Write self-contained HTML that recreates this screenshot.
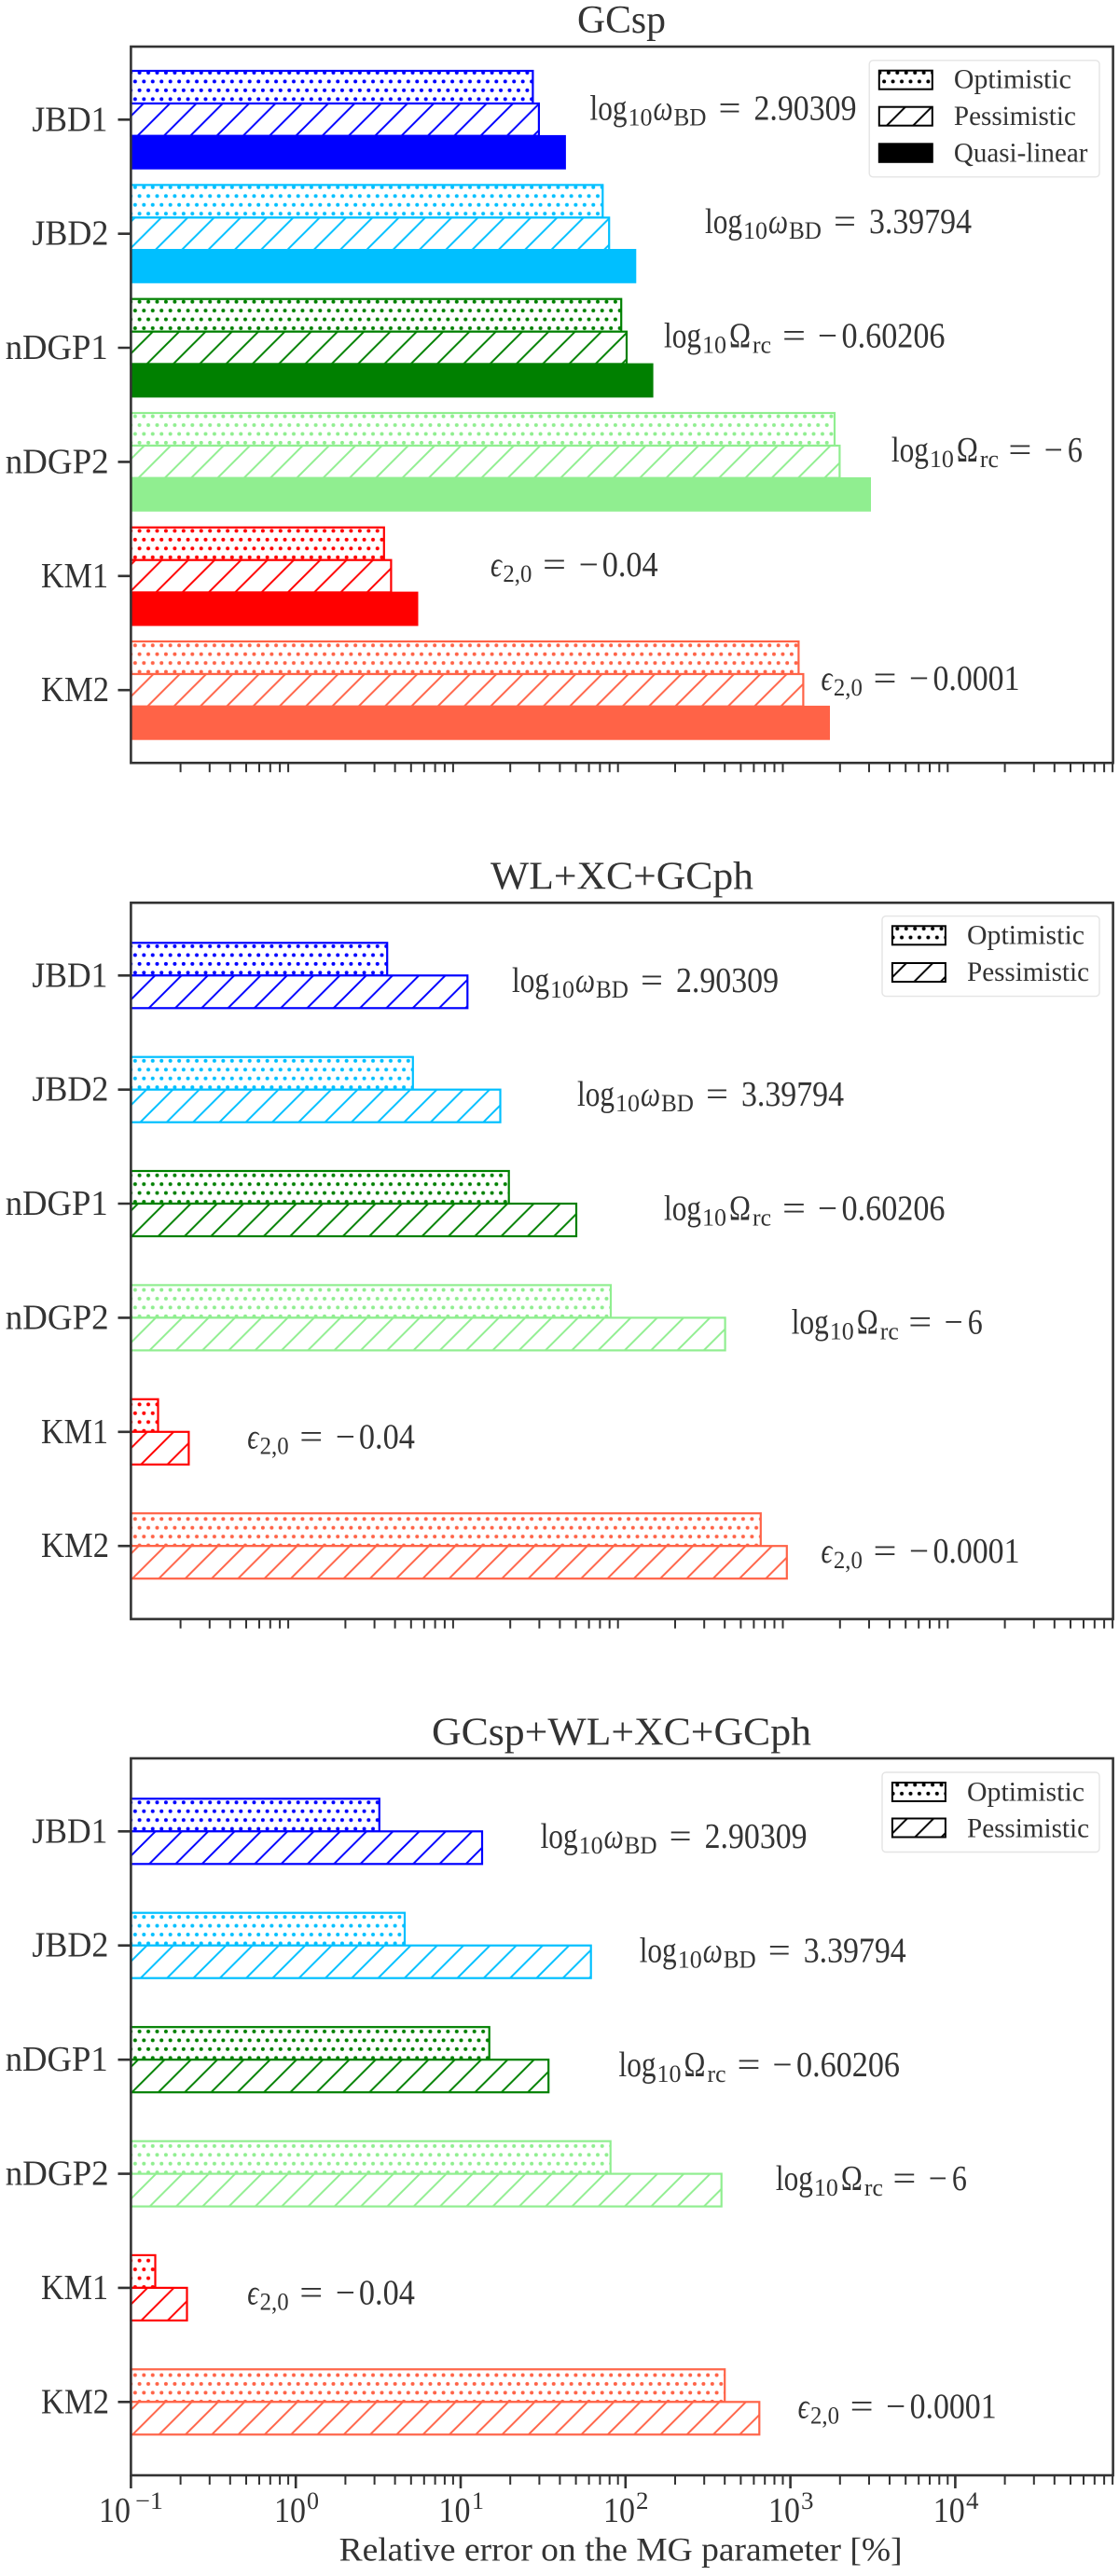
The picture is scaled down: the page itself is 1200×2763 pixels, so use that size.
<!DOCTYPE html>
<html><head><meta charset="utf-8"><style>
html,body{margin:0;padding:0;background:#fff}
svg{display:block;filter:blur(.35px)}
text{font-family:"Liberation Serif","DejaVu Serif",serif;font-size:38px;fill:#333;white-space:pre}
.s{font-size:26px}
.i{font-style:italic}
.t{font-size:42px}
.l{font-size:30px}
.e{font-size:26px}
.bar{stroke-width:2.2}
pattern path{stroke-width:2}
rect[stroke="#333"],path[stroke="#333"]{stroke-width:2.6}
#min{stroke-width:2}
</style></head><body>
<svg xmlns="http://www.w3.org/2000/svg" width="1200" height="2763" viewBox="0 0 1200 2763">
<defs>
<pattern id="l1b" patternUnits="userSpaceOnUse" x="10.2" y="0" width="28.3" height="28.3"><path d="M-2 30.3L30.3-2M-2 2L2-2M26.3 30.3L30.3 26.3" stroke="#00f" stroke-width="1.8"/></pattern>
<pattern id="l1c" patternUnits="userSpaceOnUse" x="10.2" y="0" width="28.3" height="28.3"><path d="M-2 30.3L30.3-2M-2 2L2-2M26.3 30.3L30.3 26.3" stroke="#00bfff" stroke-width="1.8"/></pattern>
<pattern id="l1g" patternUnits="userSpaceOnUse" x="10.2" y="0" width="28.3" height="28.3"><path d="M-2 30.3L30.3-2M-2 2L2-2M26.3 30.3L30.3 26.3" stroke="#008000" stroke-width="1.8"/></pattern>
<pattern id="l1h" patternUnits="userSpaceOnUse" x="10.2" y="0" width="28.3" height="28.3"><path d="M-2 30.3L30.3-2M-2 2L2-2M26.3 30.3L30.3 26.3" stroke="#90ee90" stroke-width="1.8"/></pattern>
<pattern id="l1r" patternUnits="userSpaceOnUse" x="10.2" y="0" width="28.3" height="28.3"><path d="M-2 30.3L30.3-2M-2 2L2-2M26.3 30.3L30.3 26.3" stroke="#f00" stroke-width="1.8"/></pattern>
<pattern id="l1t" patternUnits="userSpaceOnUse" x="10.2" y="0" width="28.3" height="28.3"><path d="M-2 30.3L30.3-2M-2 2L2-2M26.3 30.3L30.3 26.3" stroke="#ff6347" stroke-width="1.8"/></pattern>
<pattern id="l1k" patternUnits="userSpaceOnUse" x="10.2" y="0" width="28.3" height="28.3"><path d="M-2 30.3L30.3-2M-2 2L2-2M26.3 30.3L30.3 26.3" stroke="#000" stroke-width="1.8"/></pattern>

<pattern id="l2b" patternUnits="userSpaceOnUse" x="24" y="0" width="28.3" height="28.3"><path d="M-2 30.3L30.3-2M-2 2L2-2M26.3 30.3L30.3 26.3" stroke="#00f" stroke-width="1.8"/></pattern>
<pattern id="l2c" patternUnits="userSpaceOnUse" x="24" y="0" width="28.3" height="28.3"><path d="M-2 30.3L30.3-2M-2 2L2-2M26.3 30.3L30.3 26.3" stroke="#00bfff" stroke-width="1.8"/></pattern>
<pattern id="l2g" patternUnits="userSpaceOnUse" x="24" y="0" width="28.3" height="28.3"><path d="M-2 30.3L30.3-2M-2 2L2-2M26.3 30.3L30.3 26.3" stroke="#008000" stroke-width="1.8"/></pattern>
<pattern id="l2h" patternUnits="userSpaceOnUse" x="24" y="0" width="28.3" height="28.3"><path d="M-2 30.3L30.3-2M-2 2L2-2M26.3 30.3L30.3 26.3" stroke="#90ee90" stroke-width="1.8"/></pattern>
<pattern id="l2r" patternUnits="userSpaceOnUse" x="24" y="0" width="28.3" height="28.3"><path d="M-2 30.3L30.3-2M-2 2L2-2M26.3 30.3L30.3 26.3" stroke="#f00" stroke-width="1.8"/></pattern>
<pattern id="l2t" patternUnits="userSpaceOnUse" x="24" y="0" width="28.3" height="28.3"><path d="M-2 30.3L30.3-2M-2 2L2-2M26.3 30.3L30.3 26.3" stroke="#ff6347" stroke-width="1.8"/></pattern>
<pattern id="l2k" patternUnits="userSpaceOnUse" x="24" y="0" width="28.3" height="28.3"><path d="M-2 30.3L30.3-2M-2 2L2-2M26.3 30.3L30.3 26.3" stroke="#000" stroke-width="1.8"/></pattern>

<pattern id="l3b" patternUnits="userSpaceOnUse" x="8.5" y="0" width="28.3" height="28.3"><path d="M-2 30.3L30.3-2M-2 2L2-2M26.3 30.3L30.3 26.3" stroke="#00f" stroke-width="1.8"/></pattern>
<pattern id="l3c" patternUnits="userSpaceOnUse" x="8.5" y="0" width="28.3" height="28.3"><path d="M-2 30.3L30.3-2M-2 2L2-2M26.3 30.3L30.3 26.3" stroke="#00bfff" stroke-width="1.8"/></pattern>
<pattern id="l3g" patternUnits="userSpaceOnUse" x="8.5" y="0" width="28.3" height="28.3"><path d="M-2 30.3L30.3-2M-2 2L2-2M26.3 30.3L30.3 26.3" stroke="#008000" stroke-width="1.8"/></pattern>
<pattern id="l3h" patternUnits="userSpaceOnUse" x="8.5" y="0" width="28.3" height="28.3"><path d="M-2 30.3L30.3-2M-2 2L2-2M26.3 30.3L30.3 26.3" stroke="#90ee90" stroke-width="1.8"/></pattern>
<pattern id="l3r" patternUnits="userSpaceOnUse" x="8.5" y="0" width="28.3" height="28.3"><path d="M-2 30.3L30.3-2M-2 2L2-2M26.3 30.3L30.3 26.3" stroke="#f00" stroke-width="1.8"/></pattern>
<pattern id="l3t" patternUnits="userSpaceOnUse" x="8.5" y="0" width="28.3" height="28.3"><path d="M-2 30.3L30.3-2M-2 2L2-2M26.3 30.3L30.3 26.3" stroke="#ff6347" stroke-width="1.8"/></pattern>
<pattern id="l3k" patternUnits="userSpaceOnUse" x="8.5" y="0" width="28.3" height="28.3"><path d="M-2 30.3L30.3-2M-2 2L2-2M26.3 30.3L30.3 26.3" stroke="#000" stroke-width="1.8"/></pattern>

<pattern id="d1b" patternUnits="userSpaceOnUse" x="147.2" y="75.6" width="9.45" height="18.9"><g fill="#00f"><circle cx="2.4" cy="2.4" r="2"/><circle cx="7.125" cy="11.85" r="2"/></g></pattern>
<pattern id="d1c" patternUnits="userSpaceOnUse" x="147.2" y="75.6" width="9.45" height="18.9"><g fill="#00bfff"><circle cx="2.4" cy="2.4" r="2"/><circle cx="7.125" cy="11.85" r="2"/></g></pattern>
<pattern id="d1g" patternUnits="userSpaceOnUse" x="147.2" y="75.6" width="9.45" height="18.9"><g fill="#008000"><circle cx="2.4" cy="2.4" r="2"/><circle cx="7.125" cy="11.85" r="2"/></g></pattern>
<pattern id="d1h" patternUnits="userSpaceOnUse" x="147.2" y="75.6" width="9.45" height="18.9"><g fill="#90ee90"><circle cx="2.4" cy="2.4" r="2"/><circle cx="7.125" cy="11.85" r="2"/></g></pattern>
<pattern id="d1r" patternUnits="userSpaceOnUse" x="147.2" y="75.6" width="9.45" height="18.9"><g fill="#f00"><circle cx="2.4" cy="2.4" r="2"/><circle cx="7.125" cy="11.85" r="2"/></g></pattern>
<pattern id="d1t" patternUnits="userSpaceOnUse" x="147.2" y="75.6" width="9.45" height="18.9"><g fill="#ff6347"><circle cx="2.4" cy="2.4" r="2"/><circle cx="7.125" cy="11.85" r="2"/></g></pattern>
<pattern id="d1k" patternUnits="userSpaceOnUse" x="147.2" y="75.6" width="9.45" height="18.9"><g fill="#000"><circle cx="2.4" cy="2.4" r="2"/><circle cx="7.125" cy="11.85" r="2"/></g></pattern>

<pattern id="d2b" patternUnits="userSpaceOnUse" x="147.2" y="1012.6" width="9.45" height="18.9"><g fill="#00f"><circle cx="2.4" cy="2.4" r="2"/><circle cx="7.125" cy="11.85" r="2"/></g></pattern>
<pattern id="d2c" patternUnits="userSpaceOnUse" x="147.2" y="1012.6" width="9.45" height="18.9"><g fill="#00bfff"><circle cx="2.4" cy="2.4" r="2"/><circle cx="7.125" cy="11.85" r="2"/></g></pattern>
<pattern id="d2g" patternUnits="userSpaceOnUse" x="147.2" y="1012.6" width="9.45" height="18.9"><g fill="#008000"><circle cx="2.4" cy="2.4" r="2"/><circle cx="7.125" cy="11.85" r="2"/></g></pattern>
<pattern id="d2h" patternUnits="userSpaceOnUse" x="147.2" y="1012.6" width="9.45" height="18.9"><g fill="#90ee90"><circle cx="2.4" cy="2.4" r="2"/><circle cx="7.125" cy="11.85" r="2"/></g></pattern>
<pattern id="d2r" patternUnits="userSpaceOnUse" x="147.2" y="1012.6" width="9.45" height="18.9"><g fill="#f00"><circle cx="2.4" cy="2.4" r="2"/><circle cx="7.125" cy="11.85" r="2"/></g></pattern>
<pattern id="d2t" patternUnits="userSpaceOnUse" x="147.2" y="1012.6" width="9.45" height="18.9"><g fill="#ff6347"><circle cx="2.4" cy="2.4" r="2"/><circle cx="7.125" cy="11.85" r="2"/></g></pattern>
<pattern id="d2k" patternUnits="userSpaceOnUse" x="147.2" y="1012.6" width="9.45" height="18.9"><g fill="#000"><circle cx="2.4" cy="2.4" r="2"/><circle cx="7.125" cy="11.85" r="2"/></g></pattern>

<pattern id="d3b" patternUnits="userSpaceOnUse" x="147.2" y="1930.9" width="9.45" height="18.9"><g fill="#00f"><circle cx="2.4" cy="2.4" r="2"/><circle cx="7.125" cy="11.85" r="2"/></g></pattern>
<pattern id="d3c" patternUnits="userSpaceOnUse" x="147.2" y="1930.9" width="9.45" height="18.9"><g fill="#00bfff"><circle cx="2.4" cy="2.4" r="2"/><circle cx="7.125" cy="11.85" r="2"/></g></pattern>
<pattern id="d3g" patternUnits="userSpaceOnUse" x="147.2" y="1930.9" width="9.45" height="18.9"><g fill="#008000"><circle cx="2.4" cy="2.4" r="2"/><circle cx="7.125" cy="11.85" r="2"/></g></pattern>
<pattern id="d3h" patternUnits="userSpaceOnUse" x="147.2" y="1930.9" width="9.45" height="18.9"><g fill="#90ee90"><circle cx="2.4" cy="2.4" r="2"/><circle cx="7.125" cy="11.85" r="2"/></g></pattern>
<pattern id="d3r" patternUnits="userSpaceOnUse" x="147.2" y="1930.9" width="9.45" height="18.9"><g fill="#f00"><circle cx="2.4" cy="2.4" r="2"/><circle cx="7.125" cy="11.85" r="2"/></g></pattern>
<pattern id="d3t" patternUnits="userSpaceOnUse" x="147.2" y="1930.9" width="9.45" height="18.9"><g fill="#ff6347"><circle cx="2.4" cy="2.4" r="2"/><circle cx="7.125" cy="11.85" r="2"/></g></pattern>
<pattern id="d3k" patternUnits="userSpaceOnUse" x="147.2" y="1930.9" width="9.45" height="18.9"><g fill="#000"><circle cx="2.4" cy="2.4" r="2"/><circle cx="7.125" cy="11.85" r="2"/></g></pattern>

<path id="min" fill="none" stroke="#333" stroke-width="1.8" d="M53.2 0v10M84.4 0v10M106.4 0v10M123.6 0v10M137.6 0v10M149.4 0v10M159.7 0v10M168.7 0v10"/>
<g id="mins"><use href="#min" x="0"/><use href="#min" x="176.8"/><use href="#min" x="353.6"/><use href="#min" x="530.4"/><use href="#min" x="707.2"/><use href="#min" x="884"/></g>
</defs>
<rect width="1200" height="2763" fill="#fff"/>

<!-- PANEL 1 -->
<g class="bar">
<rect x="140.4" y="76" width="431" height="35" fill="#fff"/><rect x="140.4" y="76" width="431" height="35" fill="url(#d1b)" stroke="#00f"/>
<rect x="140.4" y="111" width="437.5" height="34.7" fill="#fff"/><rect x="140.4" y="111" width="437.5" height="34.7" fill="url(#l1b)" stroke="#00f"/>
<rect x="140.4" y="144.9" width="466.5" height="36.8" fill="#00f"/>
<rect x="140.4" y="198.4" width="505.9" height="35" fill="#fff"/><rect x="140.4" y="198.4" width="505.9" height="35" fill="url(#d1c)" stroke="#00bfff"/>
<rect x="140.4" y="233.4" width="512.8" height="34.7" fill="#fff"/><rect x="140.4" y="233.4" width="512.8" height="34.7" fill="url(#l1c)" stroke="#00bfff"/>
<rect x="140.4" y="267" width="541.9" height="36.8" fill="#00bfff"/>
<rect x="140.4" y="320.7" width="525.8" height="35" fill="#fff"/><rect x="140.4" y="320.7" width="525.8" height="35" fill="url(#d1g)" stroke="#008000"/>
<rect x="140.4" y="355.7" width="531.6" height="34.7" fill="#fff"/><rect x="140.4" y="355.7" width="531.6" height="34.7" fill="url(#l1g)" stroke="#008000"/>
<rect x="140.4" y="389.6" width="560.2" height="36.8" fill="#008000"/>
<rect x="140.4" y="443" width="754.6" height="35" fill="#fff"/><rect x="140.4" y="443" width="754.6" height="35" fill="url(#d1h)" stroke="#90ee90"/>
<rect x="140.4" y="478" width="760" height="34.7" fill="#fff"/><rect x="140.4" y="478" width="760" height="34.7" fill="url(#l1h)" stroke="#90ee90"/>
<rect x="140.4" y="511.9" width="793.6" height="36.8" fill="#90ee90"/>
<rect x="140.4" y="565.7" width="271.4" height="35" fill="#fff"/><rect x="140.4" y="565.7" width="271.4" height="35" fill="url(#d1r)" stroke="#f00"/>
<rect x="140.4" y="600.7" width="279" height="34.7" fill="#fff"/><rect x="140.4" y="600.7" width="279" height="34.7" fill="url(#l1r)" stroke="#f00"/>
<rect x="140.4" y="634.6" width="308.1" height="36.8" fill="#f00"/>
<rect x="140.4" y="688" width="716" height="35" fill="#fff"/><rect x="140.4" y="688" width="716" height="35" fill="url(#d1t)" stroke="#ff6347"/>
<rect x="140.4" y="723" width="721" height="34.7" fill="#fff"/><rect x="140.4" y="723" width="721" height="34.7" fill="url(#l1t)" stroke="#ff6347"/>
<rect x="140.4" y="756.9" width="749.6" height="36.8" fill="#ff6347"/>
</g>
<rect x="140.4" y="50" width="1053.2" height="768.3" fill="none" stroke="#333" stroke-width="2.2"/>
<path stroke="#333" stroke-width="2.2" d="M126.5 128.3H140M126.5 250.7H140M126.5 373H140M126.5 495.4H140M126.5 617.8H140M126.5 740.2H140"/>
<use href="#mins" x="140.4" y="818.3"/>
<text class="t" x="619" y="35" textLength="95" lengthAdjust="spacingAndGlyphs">GCsp</text>
<text x="34.4" y="140.3" textLength="81" lengthAdjust="spacingAndGlyphs">JBD1</text>
<text x="34.4" y="262.7" textLength="82" lengthAdjust="spacingAndGlyphs">JBD2</text>
<text x="5.7" y="385" textLength="110" lengthAdjust="spacingAndGlyphs">nDGP1</text>
<text x="5.7" y="507.4" textLength="111" lengthAdjust="spacingAndGlyphs">nDGP2</text>
<text x="44" y="629.8" textLength="72" lengthAdjust="spacingAndGlyphs">KM1</text>
<text x="44" y="752.2" textLength="73" lengthAdjust="spacingAndGlyphs">KM2</text>

<g transform="translate(632.5,128.3)"><text textLength="40" lengthAdjust="spacingAndGlyphs">log</text><text class="s" x="41" y="6" textLength="26" lengthAdjust="spacingAndGlyphs">10</text><text class="i" x="68" textLength="21" lengthAdjust="spacingAndGlyphs">ω</text><text class="s" x="90" y="6" textLength="35" lengthAdjust="spacingAndGlyphs">BD</text><text x="138" textLength="24" lengthAdjust="spacingAndGlyphs">=</text><text x="176" textLength="110" lengthAdjust="spacingAndGlyphs">2.90309</text></g>
<g transform="translate(756,250)"><text textLength="40" lengthAdjust="spacingAndGlyphs">log</text><text class="s" x="41" y="6" textLength="26" lengthAdjust="spacingAndGlyphs">10</text><text class="i" x="68" textLength="21" lengthAdjust="spacingAndGlyphs">ω</text><text class="s" x="90" y="6" textLength="35" lengthAdjust="spacingAndGlyphs">BD</text><text x="138" textLength="24" lengthAdjust="spacingAndGlyphs">=</text><text x="176" textLength="110" lengthAdjust="spacingAndGlyphs">3.39794</text></g>
<g transform="translate(712,372.3)"><text textLength="40" lengthAdjust="spacingAndGlyphs">log</text><text class="s" x="41" y="6" textLength="26" lengthAdjust="spacingAndGlyphs">10</text><text x="70" textLength="23" lengthAdjust="spacingAndGlyphs">Ω</text><text class="s" x="95" y="6" textLength="20" lengthAdjust="spacingAndGlyphs">rc</text><text x="127" textLength="25" lengthAdjust="spacingAndGlyphs">=</text><text x="165" textLength="21" lengthAdjust="spacingAndGlyphs">−</text><text x="190.5" textLength="111" lengthAdjust="spacingAndGlyphs">0.60206</text></g>
<g transform="translate(955.9,495)"><text textLength="40" lengthAdjust="spacingAndGlyphs">log</text><text class="s" x="41" y="6" textLength="26" lengthAdjust="spacingAndGlyphs">10</text><text x="70" textLength="23" lengthAdjust="spacingAndGlyphs">Ω</text><text class="s" x="95" y="6" textLength="20" lengthAdjust="spacingAndGlyphs">rc</text><text x="125.5" textLength="25" lengthAdjust="spacingAndGlyphs">=</text><text x="163.8" textLength="20" lengthAdjust="spacingAndGlyphs">−</text><text x="189" textLength="16" lengthAdjust="spacingAndGlyphs">6</text></g>
<g transform="translate(526,618)"><text class="i" textLength="12" lengthAdjust="spacingAndGlyphs">ϵ</text><text class="s" x="13.4" y="6" textLength="31" lengthAdjust="spacingAndGlyphs">2,0</text><text x="56" textLength="25" lengthAdjust="spacingAndGlyphs">=</text><text x="94.7" textLength="21" lengthAdjust="spacingAndGlyphs">−</text><text x="119.7" textLength="60" lengthAdjust="spacingAndGlyphs">0.04</text></g>
<g transform="translate(880.5,740)"><text class="i" textLength="12" lengthAdjust="spacingAndGlyphs">ϵ</text><text class="s" x="13.4" y="6" textLength="31" lengthAdjust="spacingAndGlyphs">2,0</text><text x="56" textLength="25" lengthAdjust="spacingAndGlyphs">=</text><text x="94.5" textLength="21" lengthAdjust="spacingAndGlyphs">−</text><text x="120" textLength="93" lengthAdjust="spacingAndGlyphs">0.0001</text></g>

<rect x="932.2" y="64.8" width="246.8" height="125" rx="4" fill="#fff" stroke="#e4e4e4" stroke-width="1.4"/>
<rect x="942.8" y="75.7" width="57" height="20" fill="#fff"/><rect x="942.8" y="75.7" width="57" height="20" fill="url(#d1k)" stroke="#000" stroke-width="2"/>
<rect x="942.8" y="114.7" width="57" height="20" fill="#fff"/><rect x="942.8" y="114.7" width="57" height="20" fill="url(#l1k)" stroke="#000" stroke-width="2"/>
<rect x="941.8" y="153.3" width="59" height="21.5" fill="#000"/>
<text class="l" x="1022.9" y="94.7" textLength="126" lengthAdjust="spacingAndGlyphs">Optimistic</text>
<text class="l" x="1022.9" y="134" textLength="131" lengthAdjust="spacingAndGlyphs">Pessimistic</text>
<text class="l" x="1022.9" y="173.3" textLength="143.5" lengthAdjust="spacingAndGlyphs">Quasi-linear</text>

<!-- PANEL 2 -->
<g class="bar">
<rect x="140.4" y="1011.3" width="274.8" height="35" fill="#fff"/><rect x="140.4" y="1011.3" width="274.8" height="35" fill="url(#d2b)" stroke="#00f"/>
<rect x="140.4" y="1046.3" width="360.9" height="35" fill="#fff"/><rect x="140.4" y="1046.3" width="360.9" height="35" fill="url(#l2b)" stroke="#00f"/>
<rect x="140.4" y="1133.7" width="302.4" height="35" fill="#fff"/><rect x="140.4" y="1133.7" width="302.4" height="35" fill="url(#d2c)" stroke="#00bfff"/>
<rect x="140.4" y="1168.7" width="396.1" height="35" fill="#fff"/><rect x="140.4" y="1168.7" width="396.1" height="35" fill="url(#l2c)" stroke="#00bfff"/>
<rect x="140.4" y="1256" width="405.3" height="35" fill="#fff"/><rect x="140.4" y="1256" width="405.3" height="35" fill="url(#d2g)" stroke="#008000"/>
<rect x="140.4" y="1291" width="477.6" height="35" fill="#fff"/><rect x="140.4" y="1291" width="477.6" height="35" fill="url(#l2g)" stroke="#008000"/>
<rect x="140.4" y="1378.4" width="514.6" height="35" fill="#fff"/><rect x="140.4" y="1378.4" width="514.6" height="35" fill="url(#d2h)" stroke="#90ee90"/>
<rect x="140.4" y="1413.4" width="637.2" height="35" fill="#fff"/><rect x="140.4" y="1413.4" width="637.2" height="35" fill="url(#l2h)" stroke="#90ee90"/>
<rect x="140.4" y="1500.8" width="29.1" height="35" fill="#fff"/><rect x="140.4" y="1500.8" width="29.1" height="35" fill="url(#d2r)" stroke="#f00"/>
<rect x="140.4" y="1535.8" width="62" height="35" fill="#fff"/><rect x="140.4" y="1535.8" width="62" height="35" fill="url(#l2r)" stroke="#f00"/>
<rect x="140.4" y="1623.2" width="675.4" height="35" fill="#fff"/><rect x="140.4" y="1623.2" width="675.4" height="35" fill="url(#d2t)" stroke="#ff6347"/>
<rect x="140.4" y="1658.2" width="703.4" height="35" fill="#fff"/><rect x="140.4" y="1658.2" width="703.4" height="35" fill="url(#l2t)" stroke="#ff6347"/>
</g>
<rect x="140.4" y="968.3" width="1053.2" height="768.3" fill="none" stroke="#333" stroke-width="2.2"/>
<path stroke="#333" stroke-width="2.2" d="M126.5 1046.3H140M126.5 1168.7H140M126.5 1291H140M126.5 1413.4H140M126.5 1535.8H140M126.5 1658.2H140"/>
<use href="#mins" x="140.4" y="1736.6"/>
<text class="t" x="526" y="953.3" textLength="282" lengthAdjust="spacingAndGlyphs">WL+XC+GCph</text>
<text x="34.4" y="1058.3" textLength="81" lengthAdjust="spacingAndGlyphs">JBD1</text>
<text x="34.4" y="1180.7" textLength="82" lengthAdjust="spacingAndGlyphs">JBD2</text>
<text x="5.7" y="1303" textLength="110" lengthAdjust="spacingAndGlyphs">nDGP1</text>
<text x="5.7" y="1425.4" textLength="111" lengthAdjust="spacingAndGlyphs">nDGP2</text>
<text x="44" y="1547.8" textLength="72" lengthAdjust="spacingAndGlyphs">KM1</text>
<text x="44" y="1670.2" textLength="73" lengthAdjust="spacingAndGlyphs">KM2</text>

<g transform="translate(549,1064)"><text textLength="40" lengthAdjust="spacingAndGlyphs">log</text><text class="s" x="41" y="6" textLength="26" lengthAdjust="spacingAndGlyphs">10</text><text class="i" x="68" textLength="21" lengthAdjust="spacingAndGlyphs">ω</text><text class="s" x="90" y="6" textLength="35" lengthAdjust="spacingAndGlyphs">BD</text><text x="138" textLength="24" lengthAdjust="spacingAndGlyphs">=</text><text x="176" textLength="110" lengthAdjust="spacingAndGlyphs">2.90309</text></g>
<g transform="translate(619,1186)"><text textLength="40" lengthAdjust="spacingAndGlyphs">log</text><text class="s" x="41" y="6" textLength="26" lengthAdjust="spacingAndGlyphs">10</text><text class="i" x="68" textLength="21" lengthAdjust="spacingAndGlyphs">ω</text><text class="s" x="90" y="6" textLength="35" lengthAdjust="spacingAndGlyphs">BD</text><text x="138" textLength="24" lengthAdjust="spacingAndGlyphs">=</text><text x="176" textLength="110" lengthAdjust="spacingAndGlyphs">3.39794</text></g>
<g transform="translate(712,1308.3)"><text textLength="40" lengthAdjust="spacingAndGlyphs">log</text><text class="s" x="41" y="6" textLength="26" lengthAdjust="spacingAndGlyphs">10</text><text x="70" textLength="23" lengthAdjust="spacingAndGlyphs">Ω</text><text class="s" x="95" y="6" textLength="20" lengthAdjust="spacingAndGlyphs">rc</text><text x="127" textLength="25" lengthAdjust="spacingAndGlyphs">=</text><text x="165" textLength="21" lengthAdjust="spacingAndGlyphs">−</text><text x="190.5" textLength="111" lengthAdjust="spacingAndGlyphs">0.60206</text></g>
<g transform="translate(848.8,1430.7)"><text textLength="40" lengthAdjust="spacingAndGlyphs">log</text><text class="s" x="41" y="6" textLength="26" lengthAdjust="spacingAndGlyphs">10</text><text x="70" textLength="23" lengthAdjust="spacingAndGlyphs">Ω</text><text class="s" x="95" y="6" textLength="20" lengthAdjust="spacingAndGlyphs">rc</text><text x="125.5" textLength="25" lengthAdjust="spacingAndGlyphs">=</text><text x="163.8" textLength="20" lengthAdjust="spacingAndGlyphs">−</text><text x="189" textLength="16" lengthAdjust="spacingAndGlyphs">6</text></g>
<g transform="translate(265.2,1553.3)"><text class="i" textLength="12" lengthAdjust="spacingAndGlyphs">ϵ</text><text class="s" x="13.4" y="6" textLength="31" lengthAdjust="spacingAndGlyphs">2,0</text><text x="56" textLength="25" lengthAdjust="spacingAndGlyphs">=</text><text x="94.7" textLength="21" lengthAdjust="spacingAndGlyphs">−</text><text x="119.7" textLength="60" lengthAdjust="spacingAndGlyphs">0.04</text></g>
<g transform="translate(880.5,1676)"><text class="i" textLength="12" lengthAdjust="spacingAndGlyphs">ϵ</text><text class="s" x="13.4" y="6" textLength="31" lengthAdjust="spacingAndGlyphs">2,0</text><text x="56" textLength="25" lengthAdjust="spacingAndGlyphs">=</text><text x="94.5" textLength="21" lengthAdjust="spacingAndGlyphs">−</text><text x="120" textLength="93" lengthAdjust="spacingAndGlyphs">0.0001</text></g>

<rect x="946" y="982.6" width="233" height="86" rx="4" fill="#fff" stroke="#e4e4e4" stroke-width="1.4"/>
<rect x="956.9" y="993.3" width="57" height="20" fill="#fff"/><rect x="956.9" y="993.3" width="57" height="20" fill="url(#d2k)" stroke="#000" stroke-width="2"/>
<rect x="956.9" y="1033" width="57" height="20" fill="#fff"/><rect x="956.9" y="1033" width="57" height="20" fill="url(#l2k)" stroke="#000" stroke-width="2"/>
<text class="l" x="1037" y="1012.7" textLength="126" lengthAdjust="spacingAndGlyphs">Optimistic</text>
<text class="l" x="1037" y="1052" textLength="131" lengthAdjust="spacingAndGlyphs">Pessimistic</text>

<!-- PANEL 3 -->
<g class="bar">
<rect x="140.4" y="1929.3" width="266.4" height="35" fill="#fff"/><rect x="140.4" y="1929.3" width="266.4" height="35" fill="url(#d3b)" stroke="#00f"/>
<rect x="140.4" y="1964.3" width="376.6" height="35" fill="#fff"/><rect x="140.4" y="1964.3" width="376.6" height="35" fill="url(#l3b)" stroke="#00f"/>
<rect x="140.4" y="2051.7" width="293.6" height="35" fill="#fff"/><rect x="140.4" y="2051.7" width="293.6" height="35" fill="url(#d3c)" stroke="#00bfff"/>
<rect x="140.4" y="2086.7" width="493.3" height="35" fill="#fff"/><rect x="140.4" y="2086.7" width="493.3" height="35" fill="url(#l3c)" stroke="#00bfff"/>
<rect x="140.4" y="2174.2" width="384.3" height="35" fill="#fff"/><rect x="140.4" y="2174.2" width="384.3" height="35" fill="url(#d3g)" stroke="#008000"/>
<rect x="140.4" y="2209.2" width="447.8" height="35" fill="#fff"/><rect x="140.4" y="2209.2" width="447.8" height="35" fill="url(#l3g)" stroke="#008000"/>
<rect x="140.4" y="2296.6" width="514.3" height="35" fill="#fff"/><rect x="140.4" y="2296.6" width="514.3" height="35" fill="url(#d3h)" stroke="#90ee90"/>
<rect x="140.4" y="2331.6" width="633.3" height="35" fill="#fff"/><rect x="140.4" y="2331.6" width="633.3" height="35" fill="url(#l3h)" stroke="#90ee90"/>
<rect x="140.4" y="2418.9" width="26.1" height="35" fill="#fff"/><rect x="140.4" y="2418.9" width="26.1" height="35" fill="url(#d3r)" stroke="#f00"/>
<rect x="140.4" y="2453.9" width="60.1" height="35" fill="#fff"/><rect x="140.4" y="2453.9" width="60.1" height="35" fill="url(#l3r)" stroke="#f00"/>
<rect x="140.4" y="2541.3" width="636.8" height="35" fill="#fff"/><rect x="140.4" y="2541.3" width="636.8" height="35" fill="url(#d3t)" stroke="#ff6347"/>
<rect x="140.4" y="2576.3" width="673.9" height="35" fill="#fff"/><rect x="140.4" y="2576.3" width="673.9" height="35" fill="url(#l3t)" stroke="#ff6347"/>
</g>
<rect x="140.4" y="1886" width="1053.2" height="769" fill="none" stroke="#333" stroke-width="2.2"/>
<path stroke="#333" stroke-width="2.2" d="M126.5 1964.3H140M126.5 2086.7H140M126.5 2209.2H140M126.5 2331.6H140M126.5 2453.9H140M126.5 2576.3H140"/>
<use href="#mins" x="140.4" y="2655"/>
<path stroke="#333" stroke-width="2.2" d="M140.4 2655v14M317.2 2655v14M494 2655v14M670.8 2655v14M847.6 2655v14M1024.4 2655v14"/>
<text class="t" x="463" y="1871.7" textLength="407" lengthAdjust="spacingAndGlyphs">GCsp+WL+XC+GCph</text>
<text x="34.4" y="1976.3" textLength="81" lengthAdjust="spacingAndGlyphs">JBD1</text>
<text x="34.4" y="2098.7" textLength="82" lengthAdjust="spacingAndGlyphs">JBD2</text>
<text x="5.7" y="2221.2" textLength="110" lengthAdjust="spacingAndGlyphs">nDGP1</text>
<text x="5.7" y="2343.6" textLength="111" lengthAdjust="spacingAndGlyphs">nDGP2</text>
<text x="44" y="2465.9" textLength="72" lengthAdjust="spacingAndGlyphs">KM1</text>
<text x="44" y="2588.3" textLength="73" lengthAdjust="spacingAndGlyphs">KM2</text>

<g transform="translate(579.6,1982)"><text textLength="40" lengthAdjust="spacingAndGlyphs">log</text><text class="s" x="41" y="6" textLength="26" lengthAdjust="spacingAndGlyphs">10</text><text class="i" x="68" textLength="21" lengthAdjust="spacingAndGlyphs">ω</text><text class="s" x="90" y="6" textLength="35" lengthAdjust="spacingAndGlyphs">BD</text><text x="138" textLength="24" lengthAdjust="spacingAndGlyphs">=</text><text x="176" textLength="110" lengthAdjust="spacingAndGlyphs">2.90309</text></g>
<g transform="translate(685.7,2104.5)"><text textLength="40" lengthAdjust="spacingAndGlyphs">log</text><text class="s" x="41" y="6" textLength="26" lengthAdjust="spacingAndGlyphs">10</text><text class="i" x="68" textLength="21" lengthAdjust="spacingAndGlyphs">ω</text><text class="s" x="90" y="6" textLength="35" lengthAdjust="spacingAndGlyphs">BD</text><text x="138" textLength="24" lengthAdjust="spacingAndGlyphs">=</text><text x="176" textLength="110" lengthAdjust="spacingAndGlyphs">3.39794</text></g>
<g transform="translate(663.5,2227)"><text textLength="40" lengthAdjust="spacingAndGlyphs">log</text><text class="s" x="41" y="6" textLength="26" lengthAdjust="spacingAndGlyphs">10</text><text x="70" textLength="23" lengthAdjust="spacingAndGlyphs">Ω</text><text class="s" x="95" y="6" textLength="20" lengthAdjust="spacingAndGlyphs">rc</text><text x="127" textLength="25" lengthAdjust="spacingAndGlyphs">=</text><text x="165" textLength="21" lengthAdjust="spacingAndGlyphs">−</text><text x="190.5" textLength="111" lengthAdjust="spacingAndGlyphs">0.60206</text></g>
<g transform="translate(831.9,2349)"><text textLength="40" lengthAdjust="spacingAndGlyphs">log</text><text class="s" x="41" y="6" textLength="26" lengthAdjust="spacingAndGlyphs">10</text><text x="70" textLength="23" lengthAdjust="spacingAndGlyphs">Ω</text><text class="s" x="95" y="6" textLength="20" lengthAdjust="spacingAndGlyphs">rc</text><text x="125.5" textLength="25" lengthAdjust="spacingAndGlyphs">=</text><text x="163.8" textLength="20" lengthAdjust="spacingAndGlyphs">−</text><text x="189" textLength="16" lengthAdjust="spacingAndGlyphs">6</text></g>
<g transform="translate(265.2,2471.7)"><text class="i" textLength="12" lengthAdjust="spacingAndGlyphs">ϵ</text><text class="s" x="13.4" y="6" textLength="31" lengthAdjust="spacingAndGlyphs">2,0</text><text x="56" textLength="25" lengthAdjust="spacingAndGlyphs">=</text><text x="94.7" textLength="21" lengthAdjust="spacingAndGlyphs">−</text><text x="119.7" textLength="60" lengthAdjust="spacingAndGlyphs">0.04</text></g>
<g transform="translate(855.6,2593.3)"><text class="i" textLength="12" lengthAdjust="spacingAndGlyphs">ϵ</text><text class="s" x="13.4" y="6" textLength="31" lengthAdjust="spacingAndGlyphs">2,0</text><text x="56" textLength="25" lengthAdjust="spacingAndGlyphs">=</text><text x="94.5" textLength="21" lengthAdjust="spacingAndGlyphs">−</text><text x="120" textLength="93" lengthAdjust="spacingAndGlyphs">0.0001</text></g>

<rect x="946" y="1901" width="233" height="85.5" rx="4" fill="#fff" stroke="#e4e4e4" stroke-width="1.4"/>
<rect x="956.9" y="1912" width="57" height="20" fill="#fff"/><rect x="956.9" y="1912" width="57" height="20" fill="url(#d3k)" stroke="#000" stroke-width="2"/>
<rect x="956.9" y="1950.5" width="57" height="20" fill="#fff"/><rect x="956.9" y="1950.5" width="57" height="20" fill="url(#l3k)" stroke="#000" stroke-width="2"/>
<text class="l" x="1037" y="1931.3" textLength="126" lengthAdjust="spacingAndGlyphs">Optimistic</text>
<text class="l" x="1037" y="1970.5" textLength="131" lengthAdjust="spacingAndGlyphs">Pessimistic</text>

<!-- X tick labels -->
<text x="106" y="2705" textLength="34" lengthAdjust="spacingAndGlyphs">10</text><text class="e" x="145" y="2691" textLength="30" lengthAdjust="spacingAndGlyphs">−1</text>
<text x="294" y="2705" textLength="34" lengthAdjust="spacingAndGlyphs">10</text><text class="e" x="329" y="2691" textLength="13" lengthAdjust="spacingAndGlyphs">0</text>
<text x="470.5" y="2705" textLength="34" lengthAdjust="spacingAndGlyphs">10</text><text class="e" x="506" y="2691" textLength="13" lengthAdjust="spacingAndGlyphs">1</text>
<text x="647" y="2705" textLength="34" lengthAdjust="spacingAndGlyphs">10</text><text class="e" x="682" y="2691" textLength="13.5" lengthAdjust="spacingAndGlyphs">2</text>
<text x="824" y="2705" textLength="34" lengthAdjust="spacingAndGlyphs">10</text><text class="e" x="859" y="2691" textLength="13.5" lengthAdjust="spacingAndGlyphs">3</text>
<text x="1000.7" y="2705" textLength="34" lengthAdjust="spacingAndGlyphs">10</text><text class="e" x="1036" y="2691" textLength="13.5" lengthAdjust="spacingAndGlyphs">4</text>
<text x="363.6" y="2746.7" textLength="604" lengthAdjust="spacingAndGlyphs" style="font-size:36px">Relative error on the MG parameter [%]</text>
</svg>
</body></html>
